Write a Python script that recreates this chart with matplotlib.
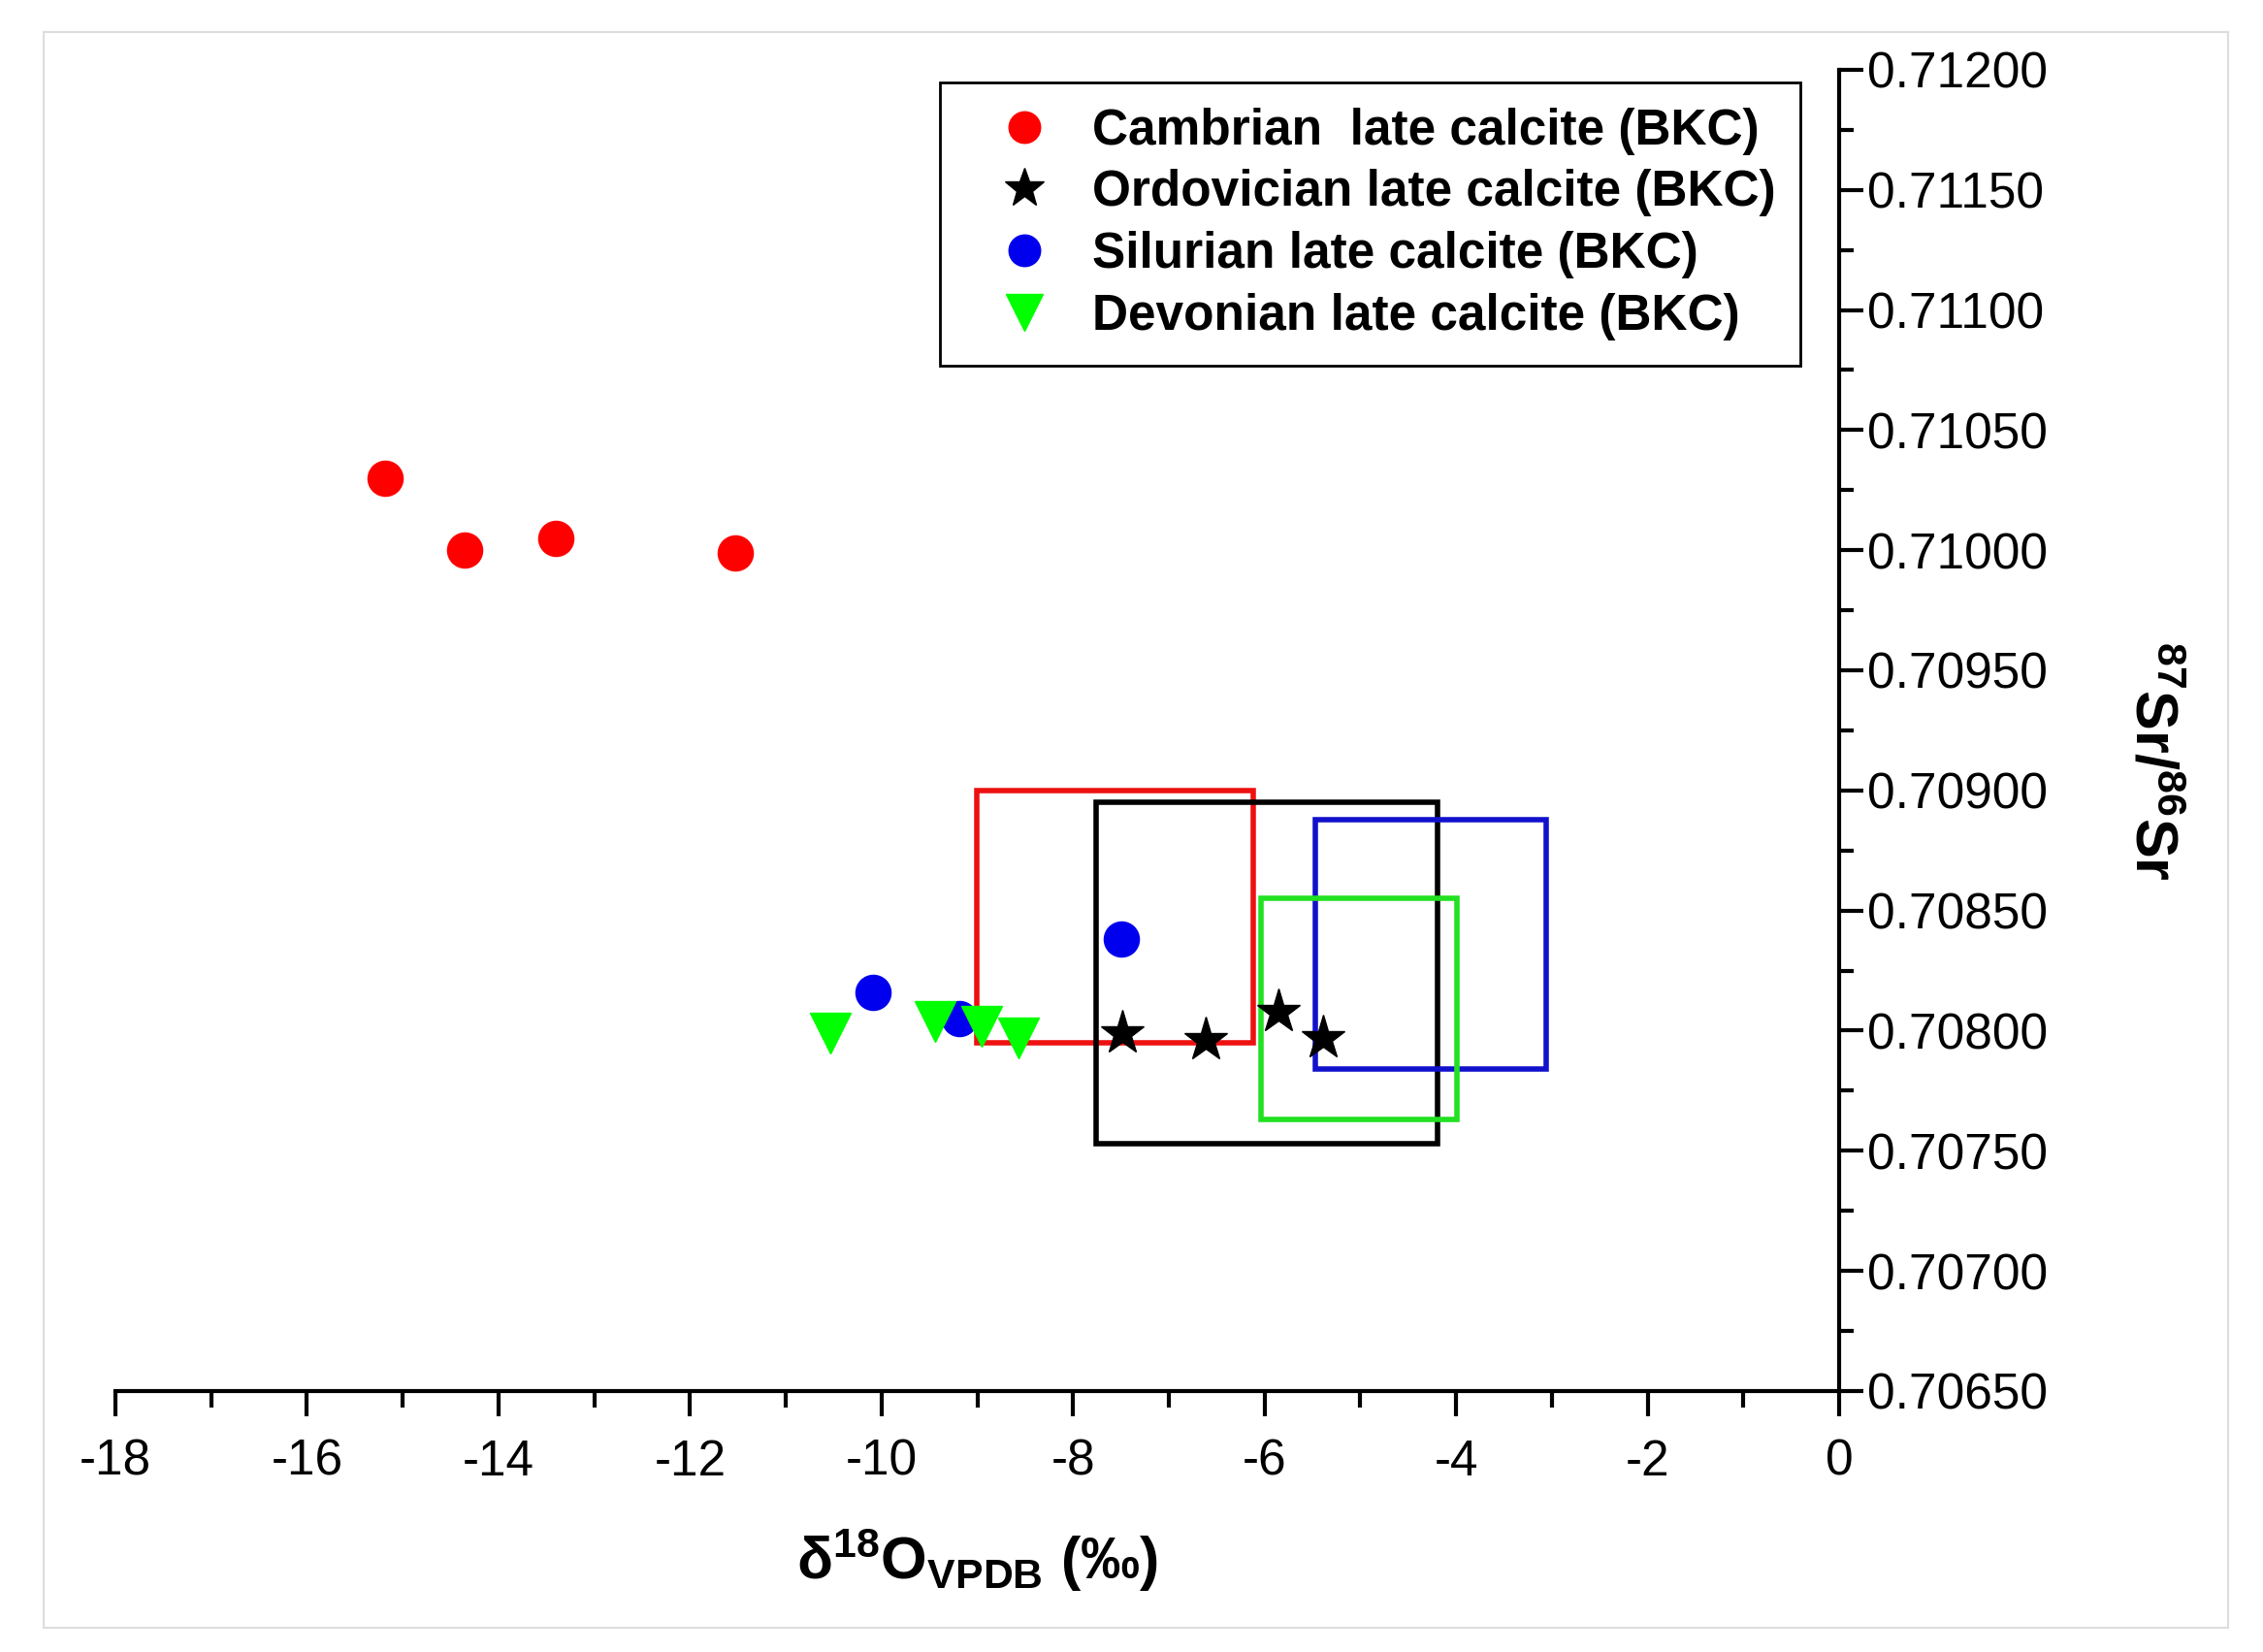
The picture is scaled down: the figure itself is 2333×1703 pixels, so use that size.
import matplotlib.pyplot as plt
from matplotlib.patches import Rectangle
from matplotlib.ticker import MultipleLocator, FormatStrFormatter

plt.rcParams['font.family'] = ['Liberation Sans', 'DejaVu Sans']
plt.rcParams['axes.unicode_minus'] = False
plt.rcParams['mathtext.fontset'] = 'custom'
plt.rcParams['mathtext.rm'] = 'Liberation Sans'
plt.rcParams['mathtext.bf'] = 'Liberation Sans:bold'
plt.rcParams['mathtext.it'] = 'Liberation Sans:italic'

# data
cam_x = [-15.18, -14.35, -13.40, -11.53]
cam_y = [0.71030, 0.71000, 0.71005, 0.70999]
ord_x = [-7.49, -6.61, -5.86, -5.39]
ord_y = [0.70799, 0.70796, 0.70808, 0.70797]
sil_x = [-10.09, -7.50, -9.19]
sil_y = [0.70816, 0.70838, 0.70805]
dev_x = [-10.53, -9.44, -8.95, -8.57]
dev_y = [0.70799, 0.70804, 0.70802, 0.70797]

# boxes: red, black, blue, green
box_x0 = [-9.01, -7.76, -5.47, -6.04]
box_x1 = [-6.12, -4.19, -3.06, -3.99]
box_y0 = [0.70795, 0.70753, 0.70784, 0.70763]
box_y1 = [0.70900, 0.70895, 0.70888, 0.70855]
box_col = ['#ee1111', '#000000', '#1111cc', '#22e022']

fig = plt.figure(figsize=(23.33, 17.03), dpi=100)
ax = fig.add_axes([0.051, 0.158, 0.7617, 0.7998])

# light grey outer frame
fig.patches.append(Rectangle((0.0193, 0.0147), 0.9653, 0.9659, transform=fig.transFigure,
                             fill=False, edgecolor='#dddddd', linewidth=1.5))

for x0, x1, y0, y1, c in zip(box_x0, box_x1, box_y0, box_y1, box_col):
    ax.add_patch(Rectangle((x0, y0), x1 - x0, y1 - y0, fill=False, edgecolor=c, linewidth=4, zorder=2))

ax.plot(cam_x, cam_y, 'o', color='#ff0000', markersize=26, linestyle='none', zorder=3,
        label='Cambrian  late calcite (BKC)')
ax.plot(ord_x, ord_y, '*', color='black', markersize=34, linestyle='none', zorder=3,
        label='Ordovician late calcite (BKC)')
ax.plot(sil_x, sil_y, 'o', color='#0000ee', markersize=26, linestyle='none', zorder=3,
        label='Silurian late calcite (BKC)')
ax.plot(dev_x, dev_y, 'v', color='#00ff00', markersize=30, linestyle='none', zorder=4,
        label='Devonian late calcite (BKC)')

ax.set_xlim(-18, 0)
ax.set_ylim(0.7065, 0.712)
ax.spines['top'].set_visible(False)
ax.spines['left'].set_visible(False)
ax.spines['right'].set_linewidth(3)
ax.spines['bottom'].set_linewidth(3)
ax.yaxis.tick_right()
ax.yaxis.set_label_position('right')

ax.xaxis.set_major_locator(MultipleLocator(2))
ax.xaxis.set_minor_locator(MultipleLocator(1))
ax.yaxis.set_major_locator(MultipleLocator(0.0005))
ax.yaxis.set_minor_locator(MultipleLocator(0.00025))
ax.yaxis.set_major_formatter(FormatStrFormatter('%.5f'))

ax.tick_params(axis='x', which='major', direction='out', length=19, width=3, pad=16, labelsize=37)
ax.tick_params(axis='x', which='minor', direction='out', length=12, width=3)
ax.tick_params(axis='y', which='major', direction='out', length=18, width=3, pad=3, labelsize=37)
ax.tick_params(axis='y', which='minor', direction='out', length=11, width=3)

ax.set_xlabel(r'$\mathbf{\delta^{18}O_{VPDB}}$ (‰)', fontsize=44, fontweight='bold', labelpad=30)
ax.set_ylabel(r'$\mathbf{^{87}Sr/^{86}Sr}$', fontsize=44, fontweight='bold', rotation=-90)
ax.yaxis.set_label_coords(1.197, 0.477)

leg = ax.legend(loc='upper right', bbox_to_anchor=(0.9775, 0.9905), fancybox=False,
                edgecolor='black', framealpha=1, prop={'weight': 'bold', 'size': 37},
                borderpad=0.5, labelspacing=0.29, handlelength=2.4, handletextpad=0.15,
                markerscale=0.9, numpoints=1, borderaxespad=0)
leg.get_frame().set_linewidth(2)

fig.savefig('out.png', dpi=100)
